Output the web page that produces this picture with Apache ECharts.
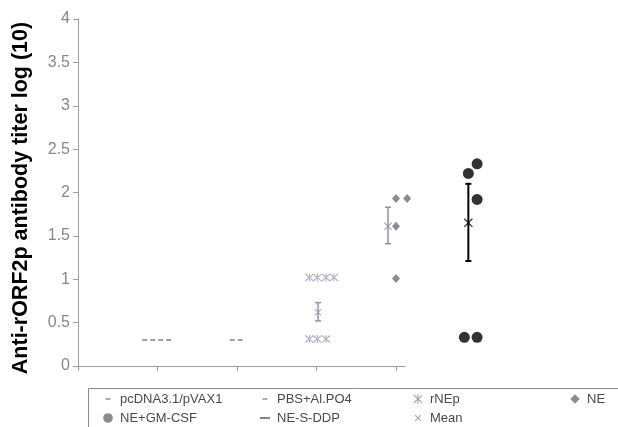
<!DOCTYPE html>
<html>
<head>
<meta charset="utf-8">
<script src="https://cdn.jsdelivr.net/npm/echarts@6/dist/echarts.min.js"></script>
<style>
  html, body { margin: 0; padding: 0; background: #fff; }
  #chart { width: 618px; height: 427px; }
</style>
</head>
<body>
<div id="chart"></div>
<script>
// ---- data: log10 antibody titers per immunisation group ----
// each point is [group position (with small horizontal jitter), log10 titer]
const yAxisTicks = [0, 0.5, 1, 1.5, 2, 2.5, 3, 3.5, 4];
const seriesNames = ['pcDNA3.1/pVAX1', 'PBS+Al.PO4', 'rNEp', 'NE', 'NE+GM-CSF', 'NE-S-DDP', 'Mean'];
const pcdnaPoints = [[0.84, 0.3], [0.94, 0.3], [1.04, 0.3], [1.14, 0.3]];
const pbsPoints = [[1.94, 0.3], [2.04, 0.3]];
const rnepPoints = [[2.91, 1.02], [3.01, 1.02], [3.12, 1.02], [3.22, 1.02], [2.91, 0.31], [3.01, 0.31], [3.12, 0.31]];
const nePoints = [[4.0, 1.93], [4.14, 1.93], [4.0, 1.61], [4.0, 1.01]];
const gmcsfPoints = [[4.91, 2.22], [5.02, 2.33], [5.02, 1.92], [4.86, 0.33], [5.02, 0.33]];
const sddpPoints = [];
// group means with their error-bar ranges (rNEp, NE, NE+GM-CSF)
const meanX = [3.02, 3.90, 4.91];
const meanY = [0.62, 1.61, 1.65];
const errLow = [0.52, 1.41, 1.21];
const errHigh = [0.73, 1.83, 2.10];

// ---- styling ----
const FONT = "'Liberation Sans', Arial, sans-serif";
const AXIS_GREY = '#9a9cab';
const meanColors = ['#8f94ab', '#8e92a3', '#000000'];
const meanSizes = [7, 8, 9];
const errWidths = [1.5, 1.5, 2];

const X_PATH = 'path://M0,1L1,0L5,4L9,0L10,1L6,5L10,9L9,10L5,6L1,10L0,9L4,5Z';
const STAR_PATH = 'path://M0,1L1,0L5,4L9,0L10,1L6,5L10,9L9,10L5,6L1,10L0,9L4,5Z M4.4,0h1.2v10h-1.2z';
// legend icons inside a fixed 14x14 frame (the two moveTo points pin the frame)
const ICON_DASH = 'path://M0,0M14,14M4.5,6.2h5v1.6h-5z';
const ICON_LINE = 'path://M0,0M14,14M2,6.1h10v1.8h-10z';
const ICON_STAR = 'path://M0,0M14,14M2.5,3.5L3.3,2.7L7,6.3L10.7,2.7L11.5,3.5L7.8,7L11.5,10.5L10.7,11.3L7,7.7L3.3,11.3L2.5,10.5L6.2,7Z M6.5,2h1v10h-1z';
const ICON_X = 'path://M0,0M14,14M3.8,4.5L4.5,3.8L7,6.3L9.5,3.8L10.2,4.5L7.7,7L10.2,9.5L9.5,10.2L7,7.7L4.5,10.2L3.8,9.5L6.3,7Z';
const ICON_DIAMOND = 'path://M0,0M14,14M7,2.3L11.7,7L7,11.7L2.3,7Z';
const ICON_CIRCLE = 'path://M0,0M14,14M7,2.2A4.8,4.8 0 1,1 7,11.8A4.8,4.8 0 1,1 7,2.2Z';

const chart = echarts.init(document.getElementById('chart'), null, { renderer: 'canvas' });

const legendText = { fontFamily: FONT, fontSize: 13, color: '#4a4a4a' };
function legendColumn(left, items) {
  return {
    orient: 'vertical', left: left, top: 392, height: 60,
    padding: 0,
    itemWidth: 14, itemHeight: 14, itemGap: 5,
    textStyle: legendText,
    selectedMode: false,
    data: items
  };
}

const errorBarData = meanX.map((x, i) => [x, errLow[i], errHigh[i]]);
const meanData = meanX.map((x, i) => ({
  value: [x, meanY[i]],
  symbolSize: meanSizes[i],
  itemStyle: { color: meanColors[i] }
}));

chart.setOption({
  animation: false,
  backgroundColor: '#ffffff',
  grid: [
    { left: 78, top: 19, width: 327, height: 347 },
    { left: 78, top: 19, width: 477, height: 347 }
  ],
  xAxis: [
    {
      gridIndex: 0, type: 'value', min: 0, max: 4.113, interval: 1,
      axisLine: { show: true, lineStyle: { color: AXIS_GREY, width: 1 } },
      axisTick: { show: true, length: 5, customValues: [0, 1, 2, 3, 4], lineStyle: { color: AXIS_GREY } },
      axisLabel: { show: false },
      splitLine: { show: false }
    },
    { gridIndex: 1, type: 'value', min: 0, max: 6, show: false, splitLine: { show: false } }
  ],
  yAxis: [
    {
      gridIndex: 0, type: 'value', min: yAxisTicks[0], max: yAxisTicks[yAxisTicks.length - 1], interval: 0.5,
      axisLine: { show: true, lineStyle: { color: AXIS_GREY, width: 1 } },
      axisTick: { show: true, length: 5, lineStyle: { color: AXIS_GREY } },
      axisLabel: { fontFamily: FONT, fontSize: 16, color: '#878787', margin: 8 },
      splitLine: { show: false }
    },
    { gridIndex: 1, type: 'value', min: 0, max: 4, show: false, splitLine: { show: false } }
  ],
  legend: [
    legendColumn(101, [
      { name: seriesNames[0], icon: ICON_DASH, itemStyle: { color: '#808080' } },
      { name: seriesNames[4], icon: ICON_CIRCLE, itemStyle: { color: '#6f6f6f' } }
    ]),
    legendColumn(258, [
      { name: seriesNames[1], icon: ICON_DASH, itemStyle: { color: '#808080' } },
      { name: seriesNames[5], icon: ICON_LINE, itemStyle: { color: '#7a7a7a' } }
    ]),
    legendColumn(411, [
      { name: seriesNames[2], icon: ICON_STAR, itemStyle: { color: '#8a8a8a' } },
      { name: seriesNames[6], icon: ICON_X, itemStyle: { color: '#8a8a8a' } }
    ]),
    legendColumn(568, [
      { name: seriesNames[3], icon: ICON_DIAMOND, itemStyle: { color: '#6f6f6f' } }
    ])
  ],
  graphic: [
    {
      type: 'rect', z: 0, silent: true,
      shape: { x: 88.5, y: 388.5, width: 560, height: 60 },
      style: { fill: null, stroke: '#8c8c8c', lineWidth: 1 }
    },
    {
      type: 'text', x: 21, y: 198, rotation: Math.PI / 2, silent: true,
      style: {
        text: 'Anti-rORF2p antibody titer log (10)',
        font: "bold 21.5px 'Liberation Sans', Arial, sans-serif",
        fill: '#000', align: 'center', verticalAlign: 'middle'
      }
    }
  ],
  series: [
    {
      name: seriesNames[0], type: 'scatter', xAxisIndex: 1, yAxisIndex: 1,
      symbol: 'rect', symbolSize: [5, 2], itemStyle: { color: '#858a9b' },
      data: pcdnaPoints
    },
    {
      name: seriesNames[1], type: 'scatter', xAxisIndex: 1, yAxisIndex: 1,
      symbol: 'rect', symbolSize: [5, 2], itemStyle: { color: '#858a9b' },
      data: pbsPoints
    },
    {
      name: seriesNames[2], type: 'scatter', xAxisIndex: 1, yAxisIndex: 1,
      symbol: STAR_PATH, symbolSize: [9, 8], itemStyle: { color: '#9ea3ba' },
      data: rnepPoints
    },
    {
      name: seriesNames[3], type: 'scatter', xAxisIndex: 1, yAxisIndex: 1,
      symbol: 'diamond', symbolSize: [8, 9], itemStyle: { color: '#6e6e78' },
      data: nePoints
    },
    {
      name: seriesNames[4], type: 'scatter', xAxisIndex: 1, yAxisIndex: 1,
      symbol: 'circle', symbolSize: 11, itemStyle: { color: '#000' },
      data: gmcsfPoints
    },
    {
      name: seriesNames[5], type: 'line', xAxisIndex: 1, yAxisIndex: 1,
      itemStyle: { color: '#7a7a7a' }, data: sddpPoints
    },
    {
      name: 'errorbars', type: 'custom', xAxisIndex: 1, yAxisIndex: 1,
      encode: { x: 0, y: [1, 2] },
      data: errorBarData,
      z: 3,
      renderItem: function (params, api) {
        const x = api.value(0);
        const top = api.coord([x, api.value(2)]);
        const bot = api.coord([x, api.value(1)]);
        const i = params.dataIndex;
        const cap = 3;
        const style = { stroke: meanColors[i], lineWidth: errWidths[i], fill: null };
        return {
          type: 'group',
          children: [
            { type: 'line', shape: { x1: top[0], y1: top[1], x2: bot[0], y2: bot[1] }, style: style },
            { type: 'line', shape: { x1: top[0] - cap, y1: top[1], x2: top[0] + cap, y2: top[1] }, style: style },
            { type: 'line', shape: { x1: bot[0] - cap, y1: bot[1], x2: bot[0] + cap, y2: bot[1] }, style: style }
          ]
        };
      }
    },
    {
      name: seriesNames[6], type: 'scatter', xAxisIndex: 1, yAxisIndex: 1, z: 4,
      symbol: X_PATH, itemStyle: { color: '#8a8a8a' },
      data: meanData
    }
  ]
});
</script>
</body>
</html>
